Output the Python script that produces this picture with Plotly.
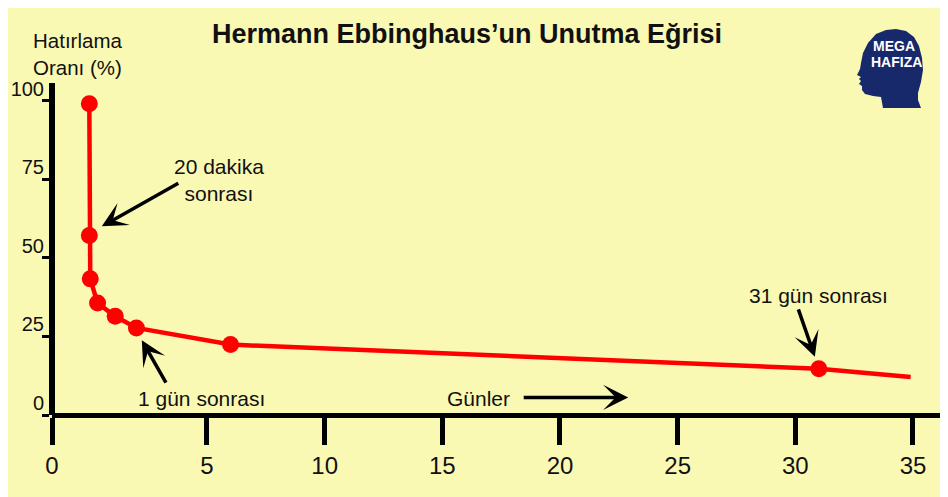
import plotly.graph_objects as go

# ---- data ----
days = [0, 0, 0.04, 0.35, 1.1, 2, 6, 31, 34.9]
retention = [99, 57.1, 43.3, 35.6, 31.4, 27.7, 22.4, 14.7, 12.1]
x_tick_vals = [5, 10, 15, 20, 25, 30, 35]
x_tick_text = ["0", "5", "10", "15", "20", "25", "30", "35"]
y_tick_vals = [0, 25, 50, 75, 100]

title_text = "<b>Hermann Ebbinghaus’un Unutma Eğrisi</b>"
ylabel_text = "Hatırlama<br>Oranı (%)"

# ---- layout geometry (page body adds an 8px offset) ----
OFF = 8
W, H = 948 - OFF, 497 - OFF
ML, MR, MT, MB = 52 - OFF, 5, 83 - OFF, 82
PW, PH = W - ML - MR, H - MT - MB
X0, X1 = -1.586, 36.276
Y0, Y1 = 0, 105.6

FONT = "Liberation Sans, Arial, sans-serif"
YELLOW = "#F9F9B4"
RED = "#FF0000"
NAVY = "#17296B"


def px(xs):
    return (xs - OFF - ML) / PW


def py(ys):
    return (H - MB - (ys - OFF)) / PH


fig = go.Figure()

fig.add_trace(go.Scatter(x=days, y=retention, mode="lines",
                         line=dict(color=RED, width=4.5),
                         hoverinfo="skip", showlegend=False))
fig.add_trace(go.Scatter(x=days[:-1], y=retention[:-1], mode="markers",
                         marker=dict(color=RED, size=17),
                         showlegend=False))

# background panel
fig.add_shape(type="rect", xref="paper", yref="paper",
              x0=px(0), x1=px(960), y0=py(0), y1=py(510),
              fillcolor=YELLOW, line_width=0, layer="below")

# logo head
head = [(883, 108), (881, 97), (873, 96), (865, 94), (862, 90), (862, 86),
        (859, 84), (861, 81), (859, 79), (861, 77), (857, 75), (860, 69),
        (861, 63), (863, 53), (868, 43), (876, 34), (886, 30), (896, 29),
        (906, 31), (914, 37), (919, 46), (922, 58), (923, 70), (921, 82),
        (918, 93), (918, 100), (921, 108)]
path = "M " + " L ".join(f"{px(a):.5f},{py(b):.5f}" for a, b in head) + " Z"
fig.add_shape(type="path", xref="paper", yref="paper", path=path,
              fillcolor=NAVY, line_width=0, layer="above")

annotations = [
    dict(x=px(467), y=py(34), text=title_text, font=dict(size=27, color="#111")),
    dict(x=px(77), y=py(54), text=ylabel_text, font=dict(size=20.5, color="#111")),
    dict(x=px(219), y=py(180), text="20 dakika<br>sonrası", font=dict(size=21, color="#111")),
    dict(x=px(201), y=py(398), text="1 gün sonrası", font=dict(size=21, color="#111")),
    dict(x=px(818), y=py(295), text="31 gün sonrası", font=dict(size=21, color="#111")),
    dict(x=px(478), y=py(398), text="Günler", font=dict(size=21, color="#111")),
    dict(x=px(894), y=py(46), text="<b>MEGA</b>", font=dict(size=14, color="white")),
    dict(x=px(896), y=py(62), text="<b>HAFIZA</b>", font=dict(size=14, color="white")),
]
for a in annotations:
    a.update(xref="paper", yref="paper", showarrow=False,
             xanchor="center", yanchor="middle")
    a["font"]["family"] = FONT
    fig.add_annotation(**a)

# arrows: head at (x, y) in data units, tail offset in pixels
arrows = [
    (0.53, 60.0, 78, -44),
    (2.23, 23.8, 25, 44),
    (30.83, 18.5, -17, -49),
    (22.9, 5.6, -106, 0),
]
for hx, hy, ax, ay in arrows:
    fig.add_annotation(x=hx, y=hy, xref="x", yref="y", text="",
                       showarrow=True, ax=ax, ay=ay, arrowhead=3,
                       arrowsize=1.2, arrowwidth=3.5, arrowcolor="black",
                       standoff=0, startstandoff=0)

fig.update_layout(
    width=W, height=H,
    margin=dict(l=ML, r=MR, t=MT, b=MB, pad=0, autoexpand=False),
    paper_bgcolor=YELLOW, plot_bgcolor="rgba(0,0,0,0)",
    font=dict(family=FONT, color="#111"),
    xaxis=dict(range=[X0, X1], anchor="free", position=0,
               showline=True, linewidth=5, linecolor="black",
               showgrid=False, zeroline=False,
               tickmode="array", tickvals=[X0 + 0.001] + x_tick_vals,
               ticktext=x_tick_text, ticks="outside", ticklen=27,
               tickwidth=5, tickcolor="black",
               tickfont=dict(size=24, family=FONT, color="#111")),
    yaxis=dict(range=[Y0, Y1], anchor="free", position=0,
               showline=True, linewidth=6, linecolor="black",
               showgrid=False, zeroline=False,
               tickmode="array", tickvals=y_tick_vals,
               ticks="outside", ticklen=7, tickwidth=3, tickcolor="black",
               ticklabelshift=-12, ticklabelstandoff=-6,
               tickfont=dict(size=20, family=FONT, color="#111")),
)

fig.write_html("out.html")
